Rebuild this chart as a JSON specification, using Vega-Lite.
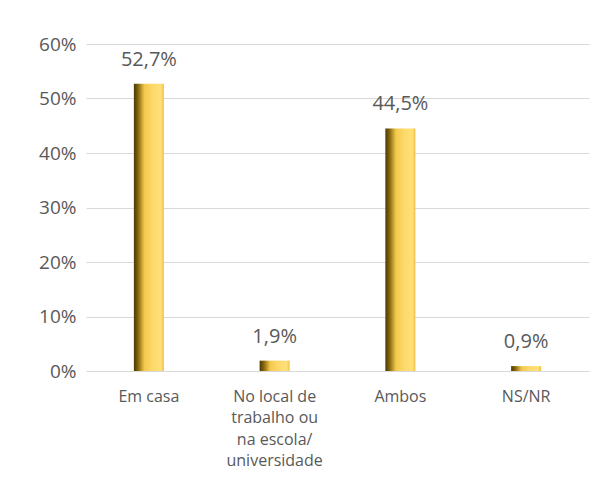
{
  "$schema": "https://vega.github.io/schema/vega-lite/v6.json",
  "width": 493,
  "height": 327,
  "autosize": {"type": "none"},
  "padding": {"left": 90, "top": 44, "right": 12, "bottom": 114},
  "background": "white",
  "config": {"view": {"stroke": null}, "font": "Open Sans"},
  "data": {
    "values": [
      {"cat": "Em casa", "value": 52.7, "label": "52,7%"},
      {"cat": "No local de|trabalho ou|na escola/|universidade", "value": 1.9, "label": "1,9%"},
      {"cat": "Ambos", "value": 44.5, "label": "44,5%"},
      {"cat": "NS/NR", "value": 0.9, "label": "0,9%"}
    ]
  },
  "encoding": {
    "x": {
      "field": "cat", "type": "nominal", "sort": null,
      "scale": {"paddingInner": 0, "paddingOuter": 0, "range": [-4, 499]},
      "axis": {
        "title": null, "labelAngle": 0, "domain": false, "ticks": false,
        "labelExpr": "split(datum.value, '|')",
        "labelFontSize": 16, "labelColor": "#595959", "labelPadding": 17,
        "labelLineHeight": 21.5, "labelBaseline": "top"
      }
    },
    "y": {
      "field": "value", "type": "quantitative",
      "scale": {"domain": [0, 60]},
      "axis": {
        "title": null, "values": [0, 10, 20, 30, 40, 50, 60],
        "labelExpr": "datum.value + '%'", "domain": false, "ticks": false,
        "labelFontSize": 19, "labelColor": "#595959", "labelPadding": 14,
        "gridColor": "#d9d9d9", "gridWidth": 1
      }
    }
  },
  "layer": [
    {
      "mark": {
        "type": "bar", "width": 30,
        "color": {
          "gradient": "linear", "x1": 0, "y1": 0, "x2": 1, "y2": 0,
          "stops": [
            {"offset": 0, "color": "#4a3800"},
            {"offset": 0.15, "color": "#8a6a10"},
            {"offset": 0.35, "color": "#f2c94c"},
            {"offset": 0.6, "color": "#fdd868"},
            {"offset": 0.9, "color": "#ffe07a"},
            {"offset": 1, "color": "#f0c040"}
          ]
        }
      }
    },
    {
      "mark": {"type": "text", "dy": -24, "fontSize": 20, "color": "#595959"},
      "encoding": {"text": {"field": "label"}}
    }
  ]
}
